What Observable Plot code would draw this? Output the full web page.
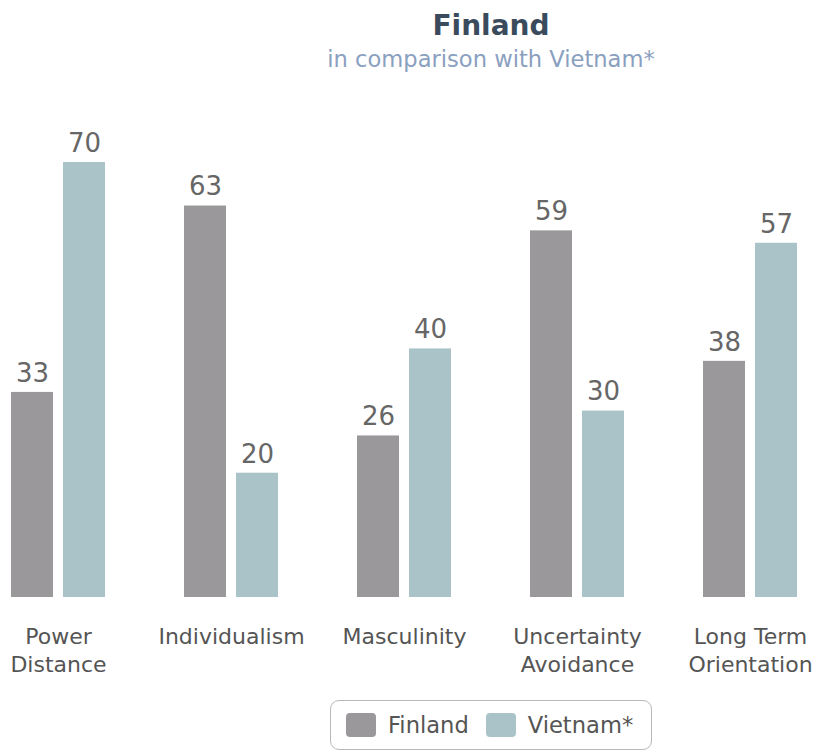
<!DOCTYPE html>
<html><head><meta charset="utf-8">
<script src="https://cdn.jsdelivr.net/npm/d3@7"></script>
<script src="https://cdn.jsdelivr.net/npm/@observablehq/plot@0.6"></script>
<style>
body{margin:0;background:#fff;font-family:"DejaVu Sans",sans-serif;}
#wrap{position:relative;width:819px;height:754px;overflow:hidden;}
#title{position:absolute;left:491px;top:12px;transform:translateX(-50%);white-space:nowrap;font-size:28px;line-height:28px;font-weight:bold;color:#3b4b5e;}
#subtitle{position:absolute;left:491px;top:48px;transform:translateX(-50%);white-space:nowrap;font-size:22.6px;line-height:22px;color:#8aa0bf;}
#chart{position:absolute;left:0;top:0;}
#legend{position:absolute;left:330px;top:700px;width:322px;height:50px;border:1px solid #b8b8b8;border-radius:9px;box-sizing:border-box;display:flex;align-items:center;padding-left:15px;}
.item{display:flex;align-items:center;margin-right:17px;font-size:22.6px;color:#555;}
.sw{width:30px;height:24px;border-radius:4px;margin-right:12px;}
</style></head>
<body>
<div id="wrap">
  <div id="chart"></div>
  <div id="title">Finland</div>
  <div id="subtitle">in comparison with Vietnam*</div>
  <div id="legend"></div>
</div>
<script>
const categories = ["Power Distance", "Individualism", "Masculinity", "Uncertainty Avoidance", "Long Term Orientation"];
const categoryLabels = ["Power\nDistance", "Individualism", "Masculinity", "Uncertainty\nAvoidance", "Long Term\nOrientation"];
const series = ["Finland", "Vietnam*"];
const colors = ["#9a989b", "#a9c3c9"];
const finland = [33, 63, 26, 59, 38];
const vietnam = [70, 20, 40, 30, 57];

const data = categories.flatMap((c, i) => [
  {cat: c, series: series[0], value: finland[i]},
  {cat: c, series: series[1], value: vietnam[i]}
]);

const chart = Plot.plot({
  width: 819, height: 700,
  marginLeft: 6, marginRight: 17, marginTop: 0, marginBottom: 103,
  style: {fontFamily: "DejaVu Sans", background: "transparent"},
  fx: {domain: categories, paddingInner: 0.4, paddingOuter: 0, axis: null, label: null},
  x: {domain: series, paddingInner: 0.19, paddingOuter: 0.09, axis: null},
  y: {domain: [0, 70], range: [597, 162], axis: null},
  color: {domain: series, range: colors},
  marks: [
    Plot.barY(data, {fx: "cat", x: "series", y: "value", fill: "series"}),
    Plot.text(data, {fx: "cat", x: "series", y: "value", text: d => String(d.value), dy: -19, lineAnchor: "middle", fontSize: 26, fill: "#666"}),
    Plot.text(categories, {fx: d => d, text: (d, i) => categoryLabels[i], frameAnchor: "bottom", lineAnchor: "top", dy: 27, fontSize: 22, lineHeight: 1.27, fill: "#555"})
  ]
});
document.getElementById("chart").appendChild(chart);

const legend = document.getElementById("legend");
series.forEach((s, i) => {
  const item = document.createElement("div");
  item.className = "item";
  const sw = document.createElement("div");
  sw.className = "sw";
  sw.style.background = colors[i];
  item.appendChild(sw);
  item.appendChild(document.createTextNode(s));
  legend.appendChild(item);
});
</script>
</body></html>
